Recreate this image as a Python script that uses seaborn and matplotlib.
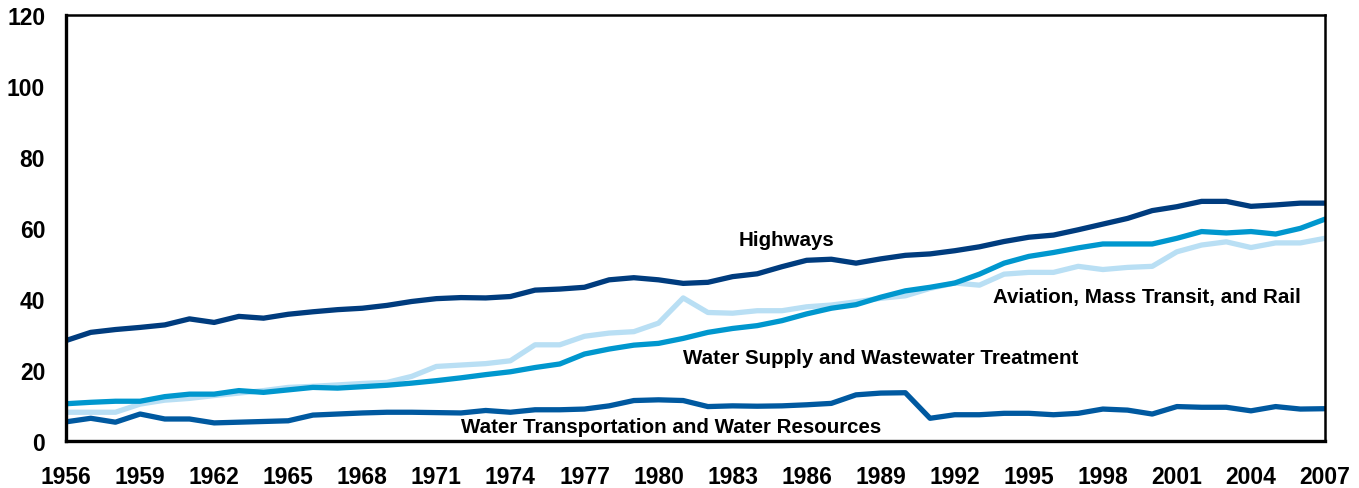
import pandas as pd
import matplotlib
matplotlib.use("Agg")
import matplotlib.pyplot as plt
import seaborn as sns

years = list(range(1956, 2008))

highways = [28.3, 30.6, 31.4, 32.0, 32.7, 34.4, 33.4, 35.1, 34.6, 35.7,
            36.4, 37.0, 37.4, 38.2, 39.3, 40.1, 40.4, 40.3, 40.7, 42.5,
            42.8, 43.3, 45.4, 46.0, 45.4, 44.4, 44.7, 46.3, 47.1, 49.1,
            50.9, 51.2, 50.1, 51.3, 52.3, 52.7, 53.6, 54.7, 56.2, 57.4,
            58.0, 59.5, 61.1, 62.7, 64.9, 66.0, 67.5, 67.5, 66.1, 66.5,
            67.0, 67.0]
aviation = [8.1, 8.1, 8.1, 10.4, 11.5, 12.0, 12.8, 13.5, 14.2, 15.1,
            15.4, 15.8, 16.2, 16.5, 18.2, 21.0, 21.4, 21.8, 22.6, 27.1,
            27.1, 29.5, 30.4, 30.8, 33.2, 40.3, 36.2, 36.0, 36.7, 36.7,
            37.8, 38.3, 39.2, 40.2, 40.9, 43.0, 44.5, 43.9, 47.0, 47.5,
            47.5, 49.2, 48.3, 48.9, 49.2, 53.3, 55.2, 56.1, 54.5, 55.8,
            55.8, 57.1]
water_supply = [10.5, 10.9, 11.2, 11.2, 12.5, 13.2, 13.2, 14.2, 13.7, 14.4,
                15.1, 14.9, 15.3, 15.7, 16.3, 17.0, 17.8, 18.7, 19.5, 20.7,
                21.7, 24.5, 25.9, 27.0, 27.5, 28.9, 30.6, 31.7, 32.5, 33.9,
                35.8, 37.4, 38.4, 40.5, 42.3, 43.3, 44.5, 47.0, 50.1, 52.0,
                53.1, 54.4, 55.5, 55.5, 55.5, 57.1, 59.0, 58.6, 59.0, 58.3,
                59.9, 62.5]
water_transport = [5.4, 6.4, 5.3, 7.6, 6.2, 6.2, 5.1, 5.3, 5.5, 5.7,
                   7.3, 7.6, 7.9, 8.1, 8.1, 8.0, 7.9, 8.6, 8.1, 8.8,
                   8.8, 9.0, 9.9, 11.4, 11.6, 11.4, 9.7, 9.9, 9.8, 9.9,
                   10.2, 10.6, 13.0, 13.5, 13.6, 6.4, 7.4, 7.4, 7.8, 7.8,
                   7.4, 7.8, 9.0, 8.7, 7.6, 9.7, 9.5, 9.5, 8.5, 9.7,
                   9.0, 9.1]

series = ["Aviation, Mass Transit, and Rail",
          "Water Supply and Wastewater Treatment",
          "Highways",
          "Water Transportation and Water Resources"]
colors = ["#b9dff4", "#0097ce", "#003c7e", "#0059a0"]

df = pd.DataFrame({
    "year": years * 4,
    "value": aviation + water_supply + highways + water_transport,
    "series": [s for s in series for _ in years],
})

sns.set_style("white")
plt.rcParams["font.family"] = ["Liberation Sans", "DejaVu Sans"]
plt.rcParams["text.color"] = "black"

fig = plt.figure(figsize=(13.59, 4.89), dpi=100)
ax = fig.add_axes([0.0486, 0.0961, 0.9264, 0.8712])

sns.lineplot(data=df, x="year", y="value", hue="series", palette=colors,
             hue_order=series, linewidth=3.8, legend=False, ax=ax)

# labels on the lines
lab = dict(ha="center", va="center", fontsize=14.8, fontweight="bold",
           color="black")
ax.text(1985.2, 56.9, "Highways", **lab)
ax.text(1999.8, 40.6, "Aviation, Mass Transit, and Rail", **lab)
ax.text(1989.0, 23.4, "Water Supply and Wastewater Treatment", **lab)
ax.text(1980.5, 4.2, "Water Transportation and Water Resources", zorder=1, **lab)

ax.set_xlim(1956, 2007)
ax.set_ylim(0, 120)
ax.set_xticks(list(range(1956, 2008, 3)))
ax.set_yticks(list(range(0, 121, 20)))
ax.set_xlabel("")
ax.set_ylabel("")
ax.tick_params(axis="both", direction="in", length=11, width=1.2,
               colors="#222222", labelcolor="black", labelsize=16.5)
ax.tick_params(axis="x", pad=17)
ax.tick_params(axis="y", pad=15)
for lbl in ax.get_xticklabels() + ax.get_yticklabels():
    lbl.set_fontweight("bold")

for side in ["left", "bottom"]:
    ax.spines[side].set_linewidth(2.4)
for side in ["top", "right"]:
    ax.spines[side].set_linewidth(1.8)
for sp in ax.spines.values():
    sp.set_color("black")

fig.savefig("out.png", dpi=100)
